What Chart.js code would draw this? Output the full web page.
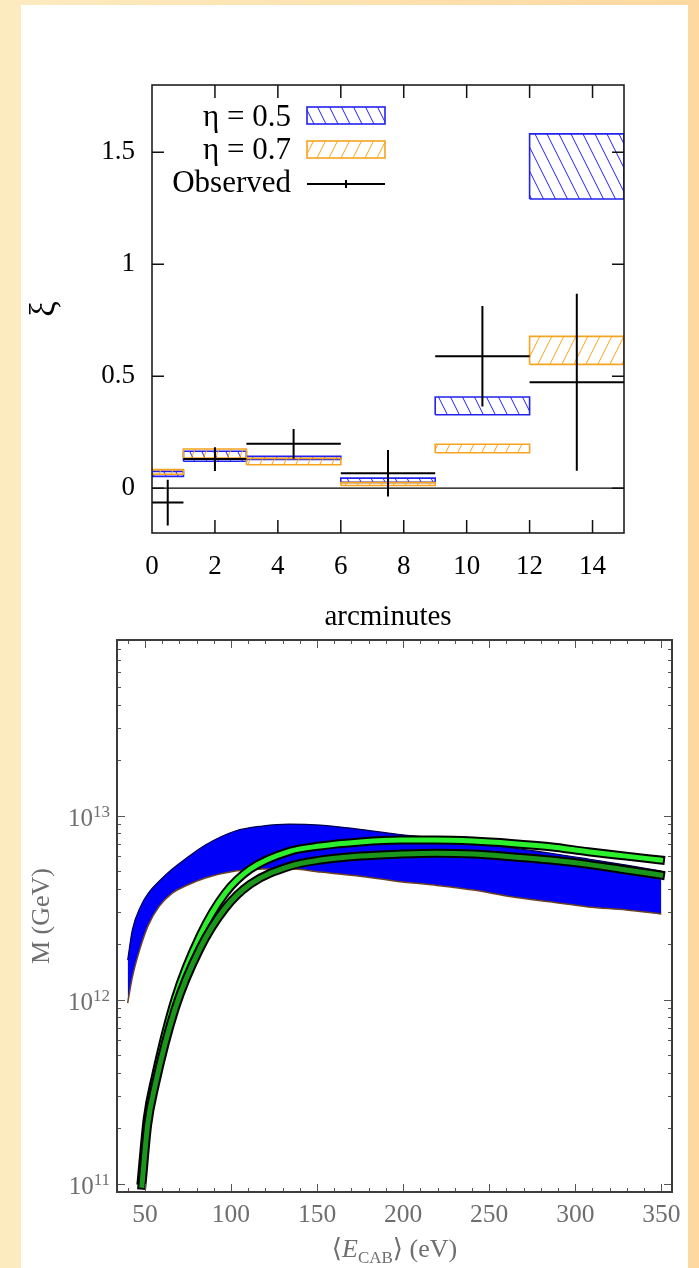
<!DOCTYPE html>
<html>
<head>
<meta charset="utf-8">
<script src="https://cdn.jsdelivr.net/npm/chart.js@4.4.1/dist/chart.umd.min.js"></script>
<style>
  html, body { margin: 0; padding: 0; }
  body {
    width: 699px; height: 1268px; overflow: hidden; position: relative;
    background: linear-gradient(to right, #fdebc0 0%, #fde3b2 45%, #fdd8a1 100%);
  }
  #painel { position: absolute; left: 21px; top: 5px; width: 667px; height: 1263px; background: #fff; }
  canvas { position: absolute; left: 0; }
  #graficoXi { top: 0; }
  #graficoMassa { top: 630px; }
</style>
</head>
<body>
<div id="painel"></div>
<canvas id="graficoXi" width="699" height="640"></canvas>
<canvas id="graficoMassa" width="699" height="638"></canvas>
<script>
// --- xi vs arcminutes ---
const bins = [0, 1, 3, 6, 9, 12, 15];
const eta05Low = [0.053, 0.120, 0.128, 0.026, 0.328, 1.291];
const eta05High = [0.075, 0.165, 0.142, 0.045, 0.407, 1.582];
const eta07Low = [0.062, 0.135, 0.105, 0.012, 0.158, 0.553];
const eta07High = [0.083, 0.175, 0.133, 0.025, 0.196, 0.678];
const observed = [-0.064, 0.130, 0.198, 0.067, 0.589, 0.473];
const observedErr = [0.102, 0.053, 0.066, 0.104, 0.224, 0.395];
const arcTicks = [0, 2, 4, 6, 8, 10, 12, 14];
const xiTicks = [0, 0.5, 1, 1.5];

// --- M vs <E_CAB> ---
const energia = [40, 42.7, 47.3, 52.0, 58.4, 65.9, 73.5, 85.1, 102.5, 118.2, 133.9, 151.9, 173.9, 196.0, 218.1, 240.8, 262.9, 285.0, 307.6, 329.7, 350];
const massaSup = [1.64e12, 2.39e12, 3.18e12, 3.79e12, 4.41e12, 5.12e12, 5.81e12, 6.92e12, 8.24e12, 8.77e12, 8.99e12, 8.88e12, 8.45e12, 7.94e12, 7.55e12, 7.10e12, 6.67e12, 6.26e12, 5.81e12, 5.38e12, 5.0e12];
const massaInf = [9.57e11, 1.32e12, 1.91e12, 2.54e12, 3.22e12, 3.79e12, 4.14e12, 4.58e12, 5.0e12, 5.12e12, 5.14e12, 4.93e12, 4.69e12, 4.40e12, 4.19e12, 3.94e12, 3.62e12, 3.40e12, 3.19e12, 3.07e12, 2.92e12];
const energiaEscura = [48.3, 51.6, 56.0, 67.7, 82.2, 96.7, 111.2, 134.5, 151.9, 175.1, 198.4, 218.7, 240.8, 262.8, 285.5, 307.5, 329.6, 349.5];
const massaEscura = [9.8e10, 2.08e11, 3.43e11, 8.99e11, 1.91e12, 3.14e12, 4.24e12, 5.32e12, 5.73e12, 6.03e12, 6.18e12, 6.25e12, 6.18e12, 5.97e12, 5.73e12, 5.43e12, 5.06e12, 4.75e12];
const energiaClara = [47.9, 51.4, 56.0, 67.7, 82.2, 96.7, 111.2, 134.5, 151.9, 175.1, 198.4, 218.7, 240.8, 262.8, 285.5, 307.5, 329.6, 349.5];
const massaClara = [1.04e11, 2.27e11, 3.79e11, 1.02e12, 2.24e12, 3.79e12, 5.12e12, 6.41e12, 6.83e12, 7.18e12, 7.36e12, 7.36e12, 7.27e12, 7.06e12, 6.77e12, 6.36e12, 6.02e12, 5.73e12];
const eTicks = [50, 100, 150, 200, 250, 300, 350];
const mTicks = [1e11, 1e12, 1e13];
const mExpoentes = ['11', '12', '13'];

const serif = '"Liberation Serif", "DejaVu Serif", serif';
const azul = '#2222ee';
const laranja = '#f5a41f';

const canvasXi = document.getElementById('graficoXi');
const ctxXi = canvasXi.getContext('2d');

function hachura(cor, sentido) {
  const t = document.createElement('canvas');
  t.width = 12; t.height = 24;
  const c = t.getContext('2d');
  c.strokeStyle = cor;
  c.lineWidth = 1;
  for (const dx of [-12, 0, 12]) {
    c.beginPath();
    if (sentido > 0) { c.moveTo(dx, 24); c.lineTo(dx + 12, 0); }
    else { c.moveTo(dx, 0); c.lineTo(dx + 12, 24); }
    c.stroke();
  }
  return ctxXi.createPattern(t, 'repeat');
}

const padraoAzul = hachura(azul, -1);
const padraoLaranja = hachura(laranja, 1);

function caixa(i, low, high, cor, padrao, ordem) {
  return {
    data: [
      { x: bins[i], y: low[i] }, { x: bins[i + 1], y: low[i] },
      { x: bins[i + 1], y: high[i] }, { x: bins[i], y: high[i] },
      { x: bins[i], y: low[i] }
    ],
    borderColor: cor,
    borderWidth: 1.6,
    borderJoinStyle: 'miter',
    backgroundColor: padrao,
    fill: 'shape',
    pointRadius: 0,
    tension: 0,
    order: ordem
  };
}

const caixasAzuis = bins.slice(0, -1).map((_, i) => caixa(i, eta05Low, eta05High, azul, padraoAzul, 5));
const caixasLaranja = bins.slice(0, -1).map((_, i) => caixa(i, eta07Low, eta07High, laranja, padraoLaranja, 4));

const barrasObservadas = [];
observed.forEach((v, i) => {
  const meio = (bins[i] + bins[i + 1]) / 2;
  barrasObservadas.push(
    { x: bins[i], y: v }, { x: bins[i + 1], y: v }, { x: bins[i + 1], y: null },
    { x: meio, y: v - observedErr[i] }, { x: meio, y: v + observedErr[i] }, { x: meio, y: null }
  );
});

const molduraXi = {
  id: 'molduraXi',
  afterDraw(chart) {
    const { ctx, chartArea: a, scales: { x, y } } = chart;
    ctx.save();
    ctx.strokeStyle = '#111';
    ctx.lineWidth = 1.5;
    ctx.strokeRect(a.left, a.top, a.right - a.left, a.bottom - a.top);
    ctx.beginPath();
    arcTicks.forEach(v => {
      if (v <= x.min) return;
      const px = x.getPixelForValue(v);
      ctx.moveTo(px, a.bottom); ctx.lineTo(px, a.bottom - 13);
      ctx.moveTo(px, a.top); ctx.lineTo(px, a.top + 13);
    });
    xiTicks.forEach(v => {
      const py = y.getPixelForValue(v);
      ctx.moveTo(a.left, py); ctx.lineTo(a.left + 12, py);
      ctx.moveTo(a.right, py); ctx.lineTo(a.right - 12, py);
    });
    ctx.stroke();

    // legenda
    ctx.font = '31px ' + serif;
    ctx.fillStyle = '#000';
    ctx.textAlign = 'right';
    ctx.textBaseline = 'middle';
    ctx.fillText('η = 0.5', 291, 118);
    ctx.fillText('η = 0.7', 291, 151);
    ctx.fillText('Observed', 291, 184);
    [[107, azul, padraoAzul], [141, laranja, padraoLaranja]].forEach(([top, cor, padrao]) => {
      ctx.fillStyle = padrao;
      ctx.fillRect(307, top, 78, 17);
      ctx.strokeStyle = cor;
      ctx.lineWidth = 1.6;
      ctx.strokeRect(307, top, 78, 17);
    });
    ctx.strokeStyle = '#000';
    ctx.lineWidth = 2;
    ctx.beginPath();
    ctx.moveTo(307, 184); ctx.lineTo(385, 184);
    ctx.moveTo(346, 180); ctx.lineTo(346, 188);
    ctx.stroke();
    ctx.restore();
  }
};

const graficoXi = new Chart(canvasXi, {
  type: 'line',
  data: {
    datasets: [
      {
        data: barrasObservadas,
        borderColor: '#000',
        borderWidth: 2,
        pointRadius: 0,
        spanGaps: false,
        tension: 0,
        order: 1
      },
      {
        data: [{ x: 0, y: 0 }, { x: 15, y: 0 }],
        borderColor: '#000',
        borderWidth: 1.2,
        pointRadius: 0,
        order: 3
      },
      ...caixasLaranja,
      ...caixasAzuis
    ]
  },
  options: {
    responsive: false,
    animation: false,
    layout: { padding: { top: 85, right: 75, left: 0, bottom: 0 } },
    plugins: { legend: { display: false }, tooltip: { enabled: false } },
    scales: {
      x: {
        type: 'linear', min: 0, max: 15,
        grid: { display: false, drawTicks: false },
        border: { display: false },
        afterBuildTicks: s => { s.ticks = arcTicks.map(v => ({ value: v })); },
        afterFit: s => { s.height = 107; },
        ticks: { padding: 18, color: '#000', maxRotation: 0, autoSkip: false, font: { family: serif, size: 27 } },
        title: { display: true, text: 'arcminutes', color: '#000', font: { family: serif, size: 29 }, padding: { top: 0, bottom: 5 } }
      },
      y: {
        type: 'linear', min: -0.2, max: 1.8,
        grid: { display: false, drawTicks: false },
        border: { display: false },
        afterBuildTicks: s => { s.ticks = xiTicks.map(v => ({ value: v })); },
        afterFit: s => { s.width = 152; },
        ticks: { padding: 17, color: '#000', font: { family: serif, size: 27 }, callback: v => String(v) },
        title: { display: true, text: 'ξ', color: '#000', font: { family: serif, size: 35 }, padding: { top: 24, bottom: 0 } }
      }
    }
  },
  plugins: [molduraXi]
});

// --- segundo grafico ---
const cinza = '#6e6e6e';

const molduraMassa = {
  id: 'molduraMassa',
  afterDraw(chart) {
    const { ctx, chartArea: a, scales: { x, y } } = chart;
    ctx.save();
    ctx.strokeStyle = '#555';
    ctx.lineWidth = 1;
    ctx.beginPath();
    for (let v = 40; v <= 350; v += 10) {
      const px = Math.round(x.getPixelForValue(v)) + 0.5;
      const len = v % 50 === 0 ? 8 : 4;
      ctx.moveTo(px, a.bottom); ctx.lineTo(px, a.bottom - len);
      ctx.moveTo(px, a.top); ctx.lineTo(px, a.top + len);
    }
    for (let e = 10; e <= 13; e++) {
      for (let m = 1; m <= 9; m++) {
        const v = m * Math.pow(10, e);
        if (v < y.min || v > y.max) continue;
        const py = Math.round(y.getPixelForValue(v)) + 0.5;
        const len = m === 1 ? 8 : 4;
        ctx.moveTo(a.left, py); ctx.lineTo(a.left + len, py);
        ctx.moveTo(a.right, py); ctx.lineTo(a.right - len, py);
      }
    }
    ctx.stroke();
    ctx.strokeStyle = '#3c3c3c';
    ctx.lineWidth = 2;
    ctx.strokeRect(a.left, a.top, a.right - a.left, a.bottom - a.top);

    // rotulos 10^n
    ctx.fillStyle = cinza;
    mTicks.forEach((v, i) => {
      const py = y.getPixelForValue(v);
      const direita = a.left - 7;
      ctx.font = '17px ' + serif;
      const wExp = ctx.measureText(mExpoentes[i]).width;
      ctx.textAlign = 'right';
      ctx.textBaseline = 'alphabetic';
      ctx.fillText(mExpoentes[i], direita, py + 1);
      ctx.font = '25px ' + serif;
      ctx.textBaseline = 'middle';
      ctx.fillText('10', direita - wExp, py + 4);
    });

    // titulo do eixo x: <E_CAB> (eV)
    const partes = [
      { t: '⟨', f: '26px ' + serif, dy: 0 },
      { t: 'E', f: 'italic 26px ' + serif, dy: 0 },
      { t: 'CAB', f: '17px ' + serif, dy: 6 },
      { t: '⟩ (eV)', f: '26px ' + serif, dy: 0 }
    ];
    let total = 0;
    partes.forEach(p => { ctx.font = p.f; p.w = ctx.measureText(p.t).width; total += p.w; });
    let px = (a.left + a.right) / 2 - total / 2;
    const base = 627;
    ctx.textAlign = 'left';
    ctx.textBaseline = 'alphabetic';
    partes.forEach(p => { ctx.font = p.f; ctx.fillText(p.t, px, base + p.dy); px += p.w; });
    ctx.restore();
  }
};

const linhaVerde = (xs, ys, cor, largura, ordem) => ({
  data: xs.map((e, i) => ({ x: e, y: ys[i] })),
  borderColor: cor,
  borderWidth: largura,
  borderCapStyle: 'square',
  pointRadius: 0,
  cubicInterpolationMode: 'monotone',
  fill: false,
  order: ordem
});

const graficoMassa = new Chart(document.getElementById('graficoMassa'), {
  type: 'line',
  data: {
    datasets: [
      {
        data: energia.map((e, i) => ({ x: e, y: massaSup[i] })),
        borderColor: '#00004a',
        borderWidth: 1.2,
        backgroundColor: '#0000fa',
        fill: '+1',
        pointRadius: 0,
        cubicInterpolationMode: 'monotone',
        order: 10
      },
      {
        data: energia.map((e, i) => ({ x: e, y: massaInf[i] })),
        borderColor: '#6b4320',
        borderWidth: 1.5,
        pointRadius: 0,
        fill: false,
        cubicInterpolationMode: 'monotone',
        order: 9
      },
      linhaVerde(energiaClara, massaClara, '#000', 9, 4),
      linhaVerde(energiaClara, massaClara, '#2cf02c', 5, 3),
      linhaVerde(energiaEscura, massaEscura, '#000', 9, 2),
      linhaVerde(energiaEscura, massaEscura, '#1a961a', 5, 1)
    ]
  },
  options: {
    responsive: false,
    animation: false,
    layout: { padding: { top: 10, right: 27, left: 0, bottom: 0 } },
    plugins: { legend: { display: false }, tooltip: { enabled: false } },
    scales: {
      x: {
        type: 'linear', min: 33.8, max: 356.2,
        grid: { display: false, drawTicks: false },
        border: { display: false },
        afterBuildTicks: s => { s.ticks = eTicks.map(v => ({ value: v })); },
        afterFit: s => { s.height = 76; },
        ticks: { padding: 8, color: cinza, maxRotation: 0, autoSkip: false, font: { family: serif, size: 25.5 } }
      },
      y: {
        type: 'logarithmic', min: 9e10, max: 9e13,
        grid: { display: false, drawTicks: false },
        border: { display: false },
        afterFit: s => { s.width = 117; },
        ticks: { display: false },
        title: { display: true, text: 'M (GeV)', color: cinza, font: { family: serif, size: 26 }, padding: { top: 27, bottom: 0 } }
      }
    }
  },
  plugins: [molduraMassa]
});
</script>
</body>
</html>
